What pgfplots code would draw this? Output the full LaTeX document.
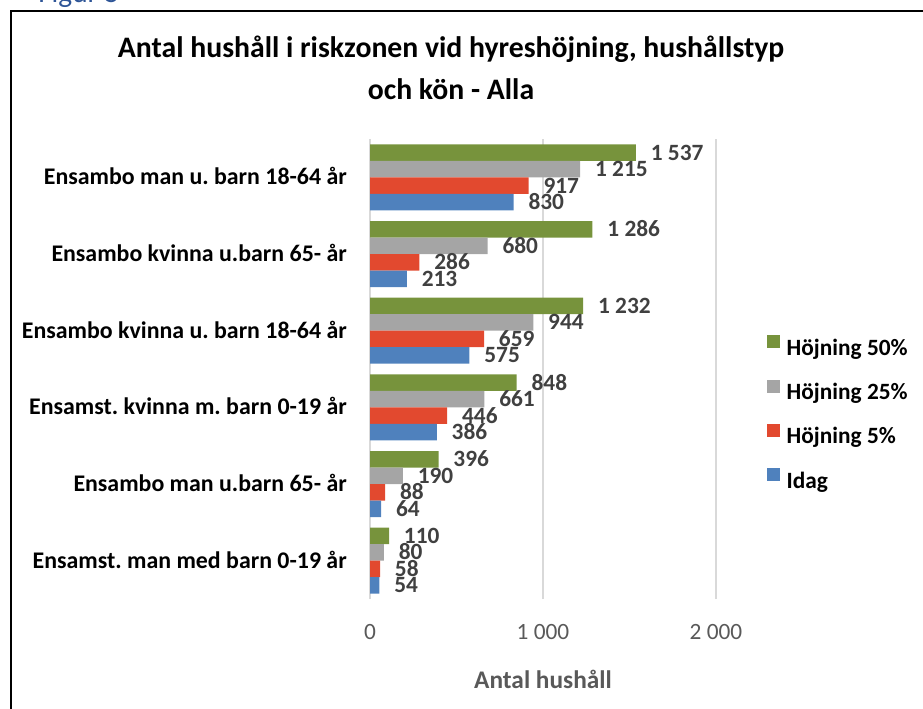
\documentclass[border=0pt]{standalone}
\usepackage{pgfplots}
\pgfplotsset{compat=1.18}
\usepackage{fontspec}
\setmainfont{Carlito}
\frenchspacing
\definecolor{cgreen}{HTML}{77933C}
\definecolor{cgray}{HTML}{A5A5A5}
\definecolor{cred}{HTML}{E2492F}
\definecolor{cblue}{HTML}{4F81BD}
\definecolor{lbl}{HTML}{404040}
\definecolor{tickc}{HTML}{595959}
\definecolor{gridc}{HTML}{D9D9D9}
\definecolor{figblue}{HTML}{2E5597}
\begin{document}
\frenchspacing
\begin{tikzpicture}
\path[use as bounding box] (0pt,0pt) rectangle (692.25pt,-531.75pt);
\begin{scope}[x=0.75pt,y=-0.75pt]
\clip (0,0) rectangle (923,709);
\node[anchor=base west, text=figblue, inner sep=0pt, font=\fontsize{22pt}{26pt}\selectfont] at (38,3) {Figur 5};
\draw[line width=1.5pt] (10.5,11.5) rectangle (960,760);
\node[anchor=base, inner sep=0pt, font=\fontsize{22.3pt}{26pt}\selectfont\bfseries] at (451,58) {Antal hushåll i riskzonen vid hyreshöjning, hushållstyp};
\node[anchor=base, inner sep=0pt, font=\fontsize{22.3pt}{26pt}\selectfont\bfseries] at (451,100) {och kön - Alla};
\end{scope}
\begin{axis}[
  at={(277.5pt,-449.25pt)}, anchor=south west,
  scale only axis, width=259.5pt, height=345pt,
  xbar, bar width=12.375pt,
  xmin=0, xmax=2000, ymin=-0.5, ymax=5.5,
  xtick={0,1000,2000}, ytick={0,1,2,3,4,5},
  yticklabels={Ensamst. man med barn 0-19 år, Ensambo man u.barn 65- år, Ensamst. kvinna m. barn 0-19 år, Ensambo kvinna u. barn 18-64 år, Ensambo kvinna u.barn 65- år, Ensambo man u. barn 18-64 år},
  xmajorgrids, major grid style={draw=gridc, line width=1.2pt},
  axis line style={draw=none},
  major tick length=0pt,
  scaled x ticks=false,
  /pgf/number format/1000 sep={\ },
  /pgf/number format/assume math mode=true,
  xticklabel style={font=\fontsize{17.5pt}{21pt}\selectfont, text=tickc, anchor=base, inner sep=0pt, yshift=-30pt},
  yticklabel style={font=\fontsize{17.9pt}{21pt}\selectfont\bfseries, text=black, anchor=base east, inner sep=0pt, xshift=-17.25pt, yshift=-5.7pt},
  xlabel={Antal hushåll},
  xlabel style={at={(axis description cs:0.5,0)}, anchor=base, yshift=-67pt, font=\fontsize{19pt}{23pt}\selectfont\bfseries, text=tickc, inner sep=0pt},
  nodes near coords, point meta=x,
  nodes near coords style={font=\fontsize{17.5pt}{21pt}\selectfont\bfseries, text=lbl, anchor=base west, inner sep=0pt, xshift=11pt, yshift=-5.6pt},
  legend style={draw=none, fill=none, at={(1.135,0.405)}, anchor=west, font=\fontsize{17.5pt}{21pt}\selectfont\bfseries, text=black, row sep=16.5pt, column sep=5pt, nodes={inner sep=0pt}},
  legend cell align=left,
  legend image code/.code={\fill[#1] (0pt,0pt) rectangle (9.75pt,9.75pt);},
  clip=false,
]
\addplot[fill=cgreen, draw=none, bar shift=18.5625pt] coordinates {(110,0) (396,1) (848,2) (1232,3) (1286,4) (1537,5)};
\addplot[fill=cgray, draw=none, bar shift=6.1875pt] coordinates {(80,0) (190,1) (661,2) (944,3) (680,4) (1215,5)};
\addplot[fill=cred, draw=none, bar shift=-6.1875pt] coordinates {(58,0) (88,1) (446,2) (659,3) (286,4) (917,5)};
\addplot[fill=cblue, draw=none, bar shift=-18.5625pt] coordinates {(54,0) (64,1) (386,2) (575,3) (213,4) (830,5)};
\legend{Höjning 50\%, Höjning 25\%, Höjning 5\%, Idag}
\end{axis}
\end{tikzpicture}
\end{document}
